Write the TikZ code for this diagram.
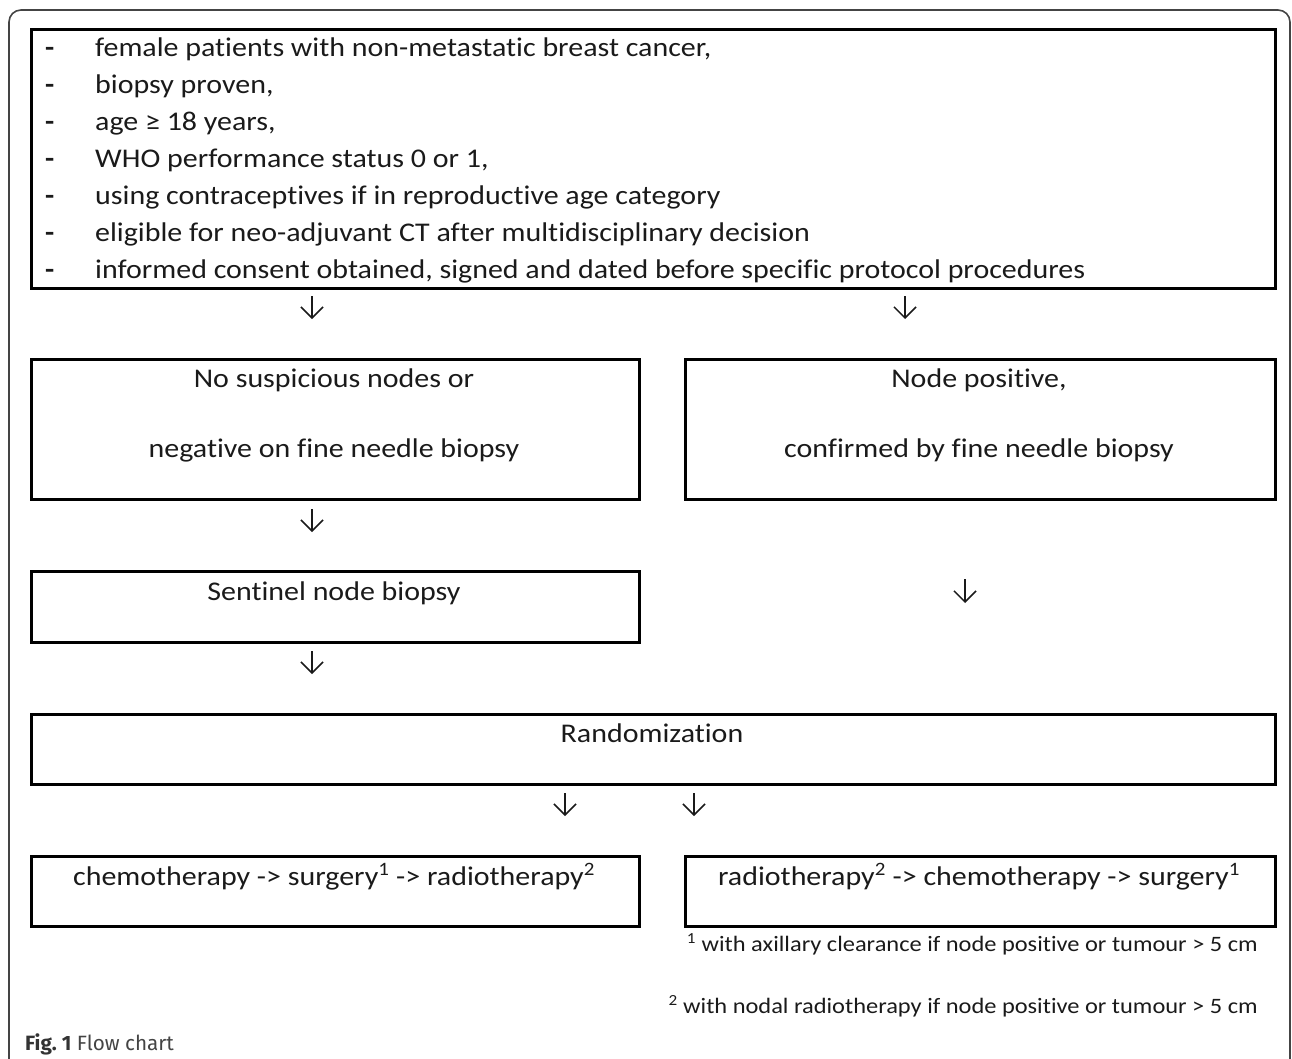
\documentclass[tikz,border=0pt]{standalone}
\usepackage{fontspec}
\setmainfont{Carlito}[FakeStretch=1.11, Ligatures={NoCommon,NoContextual}]
\newfontfamily\capfont{Fira Sans}
\usetikzlibrary{arrows.meta}
\definecolor{txt}{HTML}{1A1A1A}
\definecolor{framec}{HTML}{444444}
\definecolor{capc}{HTML}{333333}
\tikzset{
  boxline/.style={draw=black, line width=2.5pt, minimum height=70pt, anchor=north west, inner sep=0pt},
  maintext/.style={inner sep=0pt, text=txt, font=\fontsize{27}{32}\selectfont},
  dashtext/.style={inner sep=0pt, text=txt, font=\bfseries\fontsize{27}{32}\selectfont},
  foottext/.style={inner sep=0pt, text=txt, font=\fontsize{22}{26}\selectfont},
  downarrow/.style={draw=txt, line width=1.5pt, -{Straight Barb[length=11pt,width=22pt,line width=1.5pt]}},
}
\begin{document}
\begin{tikzpicture}[x=1pt,y=-1pt]
\useasboundingbox (0,0) rectangle (1292,1058);
\clip (0,0) rectangle (1292,1058);
% outer frame
\draw[framec, line width=1.6pt, rounded corners=12pt] (9,1100) -- (9,10) -- (1290,10) -- (1290,1100);
% boxes
\node[boxline, minimum width=1244pt, minimum height=259pt] (crit) at (30,28) {};
\node[boxline, minimum width=608pt, minimum height=140pt] (neg) at (30,358) {};
\node[boxline, minimum width=590pt, minimum height=140pt] (pos) at (684,358) {};
\node[boxline, minimum width=608pt, minimum height=71pt] (snb) at (30,570) {};
\node[boxline, minimum width=1244pt] (rand) at (30,713) {};
\node[boxline, minimum width=608pt] (armA) at (30,855) {};
\node[boxline, minimum width=590pt] (armB) at (684,855) {};
% criteria list
\node[dashtext, anchor=base west] (d1) at (45,56) {-};
\node[maintext, anchor=base west] (t1) at (95,56) {female patients with non-metastatic breast cancer,};
\node[dashtext, anchor=base west] (d2) at (45,93) {-};
\node[maintext, anchor=base west] (t2) at (95,93) {biopsy proven,};
\node[dashtext, anchor=base west] (d3) at (45,130) {-};
\node[maintext, anchor=base west] (t3) at (95,130) {age ≥ 18 years,};
\node[dashtext, anchor=base west] (d4) at (45,167) {-};
\node[maintext, anchor=base west] (t4) at (95,167) {WHO performance status 0 or 1,};
\node[dashtext, anchor=base west] (d5) at (45,204) {-};
\node[maintext, anchor=base west] (t5) at (95,204) {using contraceptives if in reproductive age category};
\node[dashtext, anchor=base west] (d6) at (45,241) {-};
\node[maintext, anchor=base west] (t6) at (95,241) {eligible for neo-adjuvant CT after multidisciplinary decision};
\node[dashtext, anchor=base west] (d7) at (45,278) {-};
\node[maintext, anchor=base west] (t7) at (95,278) {informed consent obtained, signed and dated before specific protocol procedures};
% box texts
\node[maintext, anchor=base] (neg1) at (334,387) {No suspicious nodes or};
\node[maintext, anchor=base] (neg2) at (334,457) {negative on fine needle biopsy};
\node[maintext, anchor=base] (pos1) at (979,387) {Node positive,};
\node[maintext, anchor=base] (pos2) at (979,457) {confirmed by fine needle biopsy};
\node[maintext, anchor=base] (snbt) at (334,600) {Sentinel node biopsy};
\node[maintext, anchor=base] (randt) at (652,742) {Randomization};
\node[maintext, anchor=base] (armAt) at (334,885) {chemotherapy -> surgery\textsuperscript{1} -> radiotherapy\textsuperscript{2}};
\node[maintext, anchor=base] (armBt) at (979,885) {radiotherapy\textsuperscript{2} -> chemotherapy -> surgery\textsuperscript{1}};
% footnotes
\node[foottext, anchor=base east] (fn1) at (1258,951) {\textsuperscript{1} with axillary clearance if node positive or tumour > 5 cm};
\node[foottext, anchor=base east] (fn2) at (1258,1013) {\textsuperscript{2} with nodal radiotherapy if node positive or tumour > 5 cm};
% caption
\node[inner sep=0pt, anchor=base west, font=\capfont\fontsize{20.7}{24}\selectfont] (cap) at (25,1050) {\textcolor{capc}{\bfseries Fig.~1}\ \textcolor{framec}{Flow chart}};
% arrows
\coordinate (a1s) at (312,296); \coordinate (a1e) at (312,319);
\coordinate (a2s) at (905,296); \coordinate (a2e) at (905,319);
\coordinate (a3s) at (312,509); \coordinate (a3e) at (312,532);
\coordinate (a4s) at (965,579); \coordinate (a4e) at (965,603);
\coordinate (a5s) at (312,651); \coordinate (a5e) at (312,674);
\coordinate (a6s) at (565,793); \coordinate (a6e) at (565,816);
\coordinate (a7s) at (694,793); \coordinate (a7e) at (694,816);
\foreach \k in {1,...,7} { \draw[downarrow] (a\k s) -- (a\k e); }
\end{tikzpicture}
\end{document}
